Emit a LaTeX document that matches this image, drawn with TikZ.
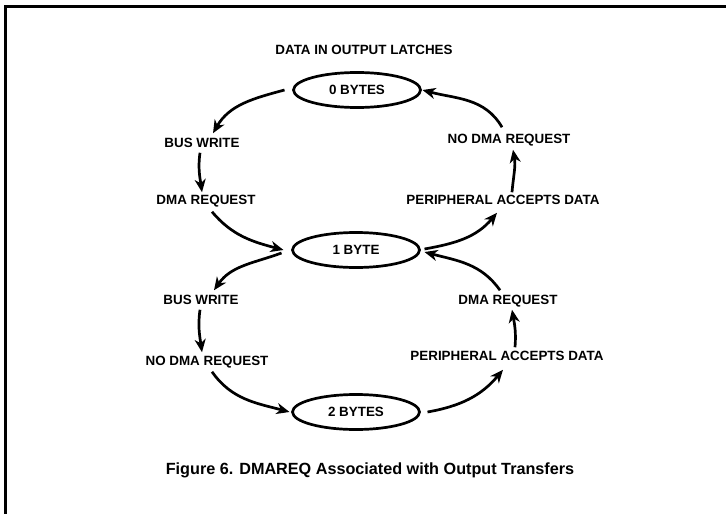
\documentclass[tikz,border=0pt]{standalone}
\usepackage{fontspec}
\setmainfont{Liberation Sans}
\usetikzlibrary{shapes.geometric,arrows.meta}

\begin{document}
\begin{tikzpicture}[x=1pt,y=1pt,
  lbl/.style={inner sep=0pt,outer sep=0pt,text height=9.5pt,text depth=0pt,font=\fontsize{13.4}{15}\selectfont\bfseries},
  state/.style={ellipse,draw,line width=2.7pt,minimum width=127pt,minimum height=35pt,inner sep=0pt,outer sep=0pt,font=\fontsize{13.4}{15}\selectfont\bfseries},
  flow/.style={line width=2.7pt,-{Stealth[length=13pt,width=11pt,inset=4pt]}}]
\useasboundingbox (0,0) rectangle (726,-514);
\draw[line width=3pt] (5,-514) -- (5,-6) -- (726,-6);
\node[lbl] (title) at (364,-50) {DATA IN OUTPUT LATCHES};
\node[state] (E0) at (357,-90) {0 BYTES};
\node[state] (E1) at (356,-250) {1 BYTE};
\node[state] (E2) at (356,-412) {2 BYTES};
\node[lbl] (BW1) at (202,-143) {BUS WRITE};
\node[lbl] (DR1) at (206,-200) {DMA REQUEST};
\node[lbl] (BW2) at (201,-300) {BUS WRITE};
\node[lbl] (NDR2) at (207,-361) {NO DMA REQUEST};
\node[lbl] (NDR1) at (509,-139) {NO DMA REQUEST};
\node[lbl] (PAD1) at (503,-200) {PERIPHERAL ACCEPTS DATA};
\node[lbl] (DR2) at (508,-300) {DMA REQUEST};
\node[lbl] (PAD2) at (507,-356) {PERIPHERAL ACCEPTS DATA};
\node[font=\fontsize{16.2}{19}\selectfont\bfseries] (caption) at (370,-470) {Figure 6. DMAREQ Associated with Output Transfers};
\draw[flow] ([xshift=-9pt]E0.west) to[out=195,in=60] ([xshift=11pt,yshift=5pt]BW1.north);
\draw[flow] ([xshift=-2pt,yshift=-5pt]BW1.south) to[out=262,in=98] ([xshift=-4pt,yshift=3pt]DR1.north);
\draw[flow] ([xshift=6pt,yshift=-7pt]DR1.south) to[out=-50,in=165] ([xshift=-9pt]E1.west);
\draw[flow] ([xshift=-11pt,yshift=-3pt]E1.west) to[out=200,in=55] ([xshift=13pt,yshift=5pt]BW2.north);
\draw[flow] ([xshift=-1pt,yshift=-5pt]BW2.south) to[out=262,in=98] ([xshift=-5pt,yshift=4pt]NDR2.north);
\draw[flow] ([xshift=5pt,yshift=-6pt]NDR2.south) to[out=-55,in=165] ([xshift=-3pt]E2.west);
\draw[flow] ([xshift=8pt]E2.east) to[out=10,in=230] ([xshift=-4pt,yshift=-9pt]PAD2.south);
\draw[flow] ([xshift=8pt,yshift=4pt]PAD2.north) to[out=85,in=-80] ([xshift=4pt,yshift=-5pt]DR2.south);
\draw[flow] ([xshift=-8pt,yshift=5pt]DR2.north) to[out=125,in=-15] ([xshift=5pt,yshift=-2pt]E1.east);
\draw[flow] ([xshift=5pt,yshift=1pt]E1.east) to[out=10,in=230] ([xshift=-6pt,yshift=-8pt]PAD1.south);
\draw[flow] ([xshift=9pt,yshift=3pt]PAD1.north) to[out=85,in=-80] ([xshift=4pt,yshift=-6pt]NDR1.south);
\draw[flow] ([xshift=-7pt,yshift=7pt]NDR1.north) to[out=120,in=-15] ([xshift=2pt]E0.east);
\end{tikzpicture}
\end{document}
